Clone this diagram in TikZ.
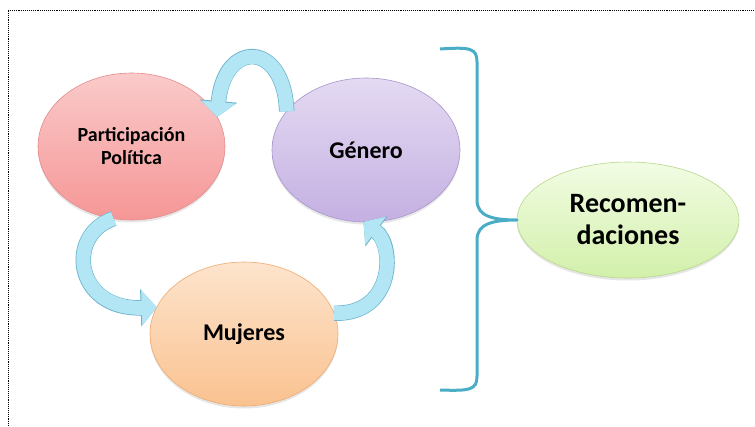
\documentclass[tikz,border=0pt]{standalone}
\usepackage{fontspec}
\setmainfont{Carlito}
\usetikzlibrary{arrows.meta,shapes.geometric,shadows}

\definecolor{flowfill}{RGB}{178,230,244}
\definecolor{flowedge}{RGB}{105,178,204}
\definecolor{bracecol}{RGB}{75,172,198}
\definecolor{parttop}{RGB}{250,202,202}
\definecolor{partbot}{RGB}{246,150,150}
\definecolor{partedge}{RGB}{228,140,140}
\definecolor{gentop}{RGB}{228,218,242}
\definecolor{genbot}{RGB}{196,176,226}
\definecolor{genedge}{RGB}{168,148,204}
\definecolor{mujtop}{RGB}{253,228,205}
\definecolor{mujbot}{RGB}{250,194,144}
\definecolor{mujedge}{RGB}{238,170,112}
\definecolor{rectop}{RGB}{242,252,228}
\definecolor{recbot}{RGB}{210,240,170}
\definecolor{recedge}{RGB}{184,214,140}

\begin{document}
\begin{tikzpicture}[x=1pt,y=-1pt,
      every node/.style={ellipse, inner sep=0pt, outer sep=0pt, align=center,
        line width=0.6pt,
        drop shadow={shadow xshift=0pt, shadow yshift=-2.5pt, opacity=0.2}},
      part/.style={top color=parttop, bottom color=partbot, draw=partedge,
        font=\bfseries\fontsize{20}{23}\selectfont},
      gen/.style={top color=gentop, bottom color=genbot, draw=genedge,
        font=\bfseries\fontsize{24}{28}\selectfont},
      muj/.style={top color=mujtop, bottom color=mujbot, draw=mujedge,
        font=\bfseries\fontsize{24}{28}\selectfont},
      rec/.style={top color=rectop, bottom color=recbot, draw=recedge,
        font=\bfseries\fontsize{28}{32}\selectfont},
      flow/.style={line width=14pt, draw=flowfill, -{Triangle[length=15pt,width=34pt]},
        preaction={draw=flowedge, line width=15.4pt, -{Triangle[length=16pt,width=36.5pt]}}},
      curly/.style={draw=bracecol, line width=3pt, line join=round}]
  %.
  \useasboundingbox (0,0) rectangle (755,426);
  \draw[densely dotted, line width=0.9pt] (8,426) -- (8,10) -- (755,10);
  %.
  \node[part, minimum width=187pt, minimum height=147pt] (part) at (131.5,146.5)
    {Participación\\Política};
  \node[gen, minimum width=188pt, minimum height=144pt] (gen) at (366,150)
    {Género};
  \node[muj, minimum width=188pt, minimum height=144pt] (muj) at (244,334)
    {Mujeres};
  \node[rec, minimum width=222pt, minimum height=116pt] (rec) at (628,220)
    {Recomen-\\daciones};
  %.
  \draw[flow] (gen.154) .. controls (284,40) and (224,40) .. (part.19);
  \draw[flow] (part.256) .. controls (65,235) and (75,310) .. (muj.163);
  \draw[flow] (muj.13) .. controls (395,315) and (395,245) .. (gen.268);
  %.
  \draw[curly] (440,49) .. controls (470,47) and (477,48) .. (477,62)
    -- (477,200) .. controls (477,216) and (492,220) .. (rec.west)
    .. controls (492,220) and (477,224) .. (477,240)
    -- (477,376) .. controls (477,390) and (470,391) .. (440,390);
  %.
\end{tikzpicture}
\end{document}
